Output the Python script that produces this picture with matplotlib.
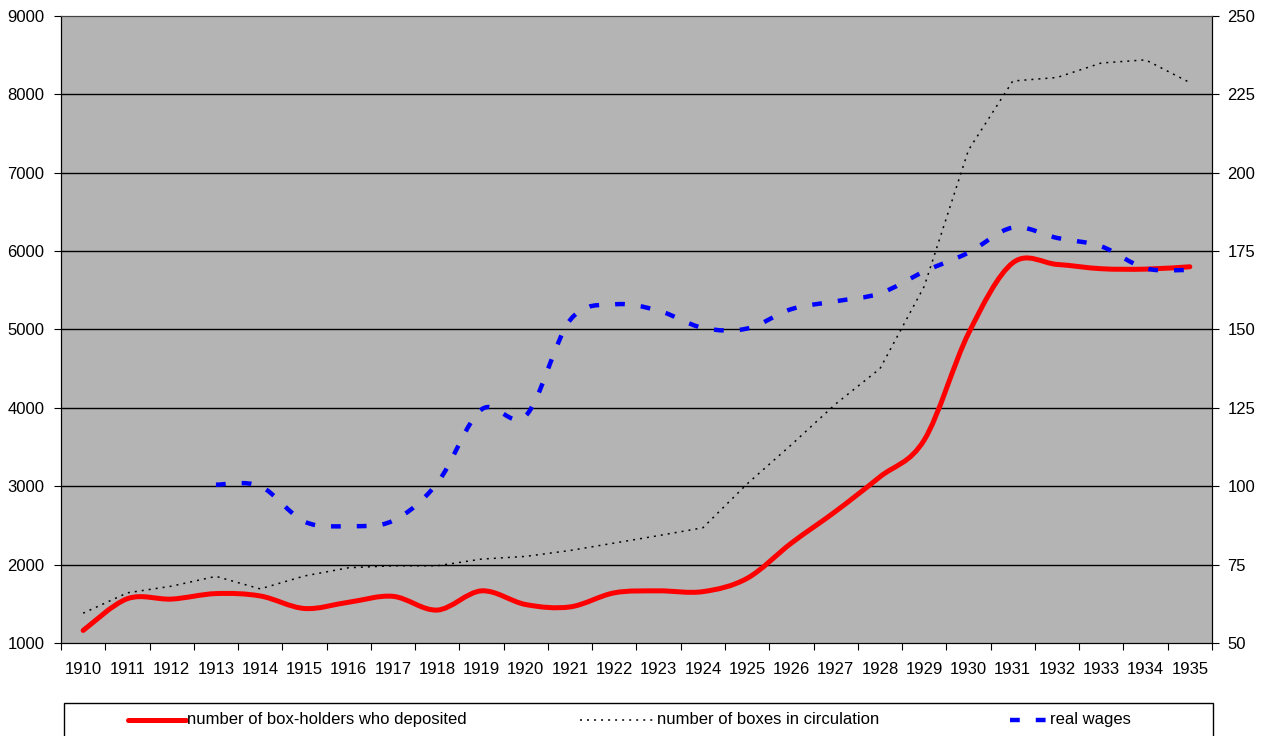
import numpy as np
import matplotlib.pyplot as plt
from matplotlib import font_manager
from matplotlib.path import Path
from matplotlib.patches import PathPatch, Rectangle
from matplotlib.lines import Line2D

installed = {f.name for f in font_manager.fontManager.ttflist}
if "Liberation Sans Narrow" in installed:
    plt.rcParams["font.family"] = ["Liberation Sans Narrow", "DejaVu Sans"]
    fs = 14
else:
    plt.rcParams["font.family"] = ["Liberation Sans", "DejaVu Sans"]
    fs = 12

years = list(range(1910, 1936))
depositors = [1160, 1565, 1560, 1630, 1600, 1440, 1520, 1595, 1420, 1665,
              1490, 1460, 1640, 1665, 1655, 1825, 2275, 2680, 3120, 3590,
              4950, 5850, 5830, 5775, 5770, 5800]
boxes = [1380, 1640, 1725, 1850, 1690, 1855, 1960, 1985, 1985, 2070,
         2105, 2180, 2275, 2370, 2470, 3030, 3530, 4050, 4500, 5550,
         7290, 8170, 8215, 8400, 8440, 8150]
wage_years = list(range(1913, 1936))
wages = [100.5, 100, 88.7, 87.3, 89, 101, 124.5, 122.5, 153, 158,
         156, 150.5, 150.3, 156.5, 159, 161.5, 168.5, 174.5, 182.5, 179.2,
         176.5, 169.5, 169]

legend_labels = ["number of box-holders who deposited",
                 "number of boxes in circulation",
                 "real wages"]


def smooth_path(x, y):
    # bezier through the points, like excel's "smoothed line"
    x = np.asarray(x, float)
    y = np.asarray(y, float)
    n = len(x)
    verts = [(x[0], y[0])]
    codes = [Path.MOVETO]
    for i in range(n - 1):
        i0 = max(i - 1, 0)
        i3 = min(i + 2, n - 1)
        c1 = (x[i] + (x[i + 1] - x[i0]) / 6, y[i] + (y[i + 1] - y[i0]) / 6)
        c2 = (x[i + 1] - (x[i3] - x[i]) / 6, y[i + 1] - (y[i3] - y[i]) / 6)
        verts += [c1, c2, (x[i + 1], y[i + 1])]
        codes += [Path.CURVE4] * 3
    return Path(verts, codes)


fig = plt.figure(figsize=(12.63, 7.36), dpi=100)
ax = fig.add_axes([0.0483, 0.1264, 0.9113, 0.8519])
ax.set_facecolor("#b4b4b4")

ax.set_xlim(1909.5, 1935.5)
ax.set_ylim(1000, 9000)
ax.set_yticks(range(1000, 9001, 1000))
for v in range(2000, 9000, 1000):
    ax.axhline(v, color="black", lw=1, zorder=1)

ax.set_xticks(np.arange(1909.5, 1936, 1))
ax.set_xticklabels([])
ax.set_xticks(years, minor=True)
ax.set_xticklabels([str(y) for y in years], minor=True)
ax.tick_params(axis="x", which="major", length=5, direction="out", color="black")
ax.tick_params(axis="x", which="minor", length=0, pad=14, labelsize=fs)
ax.tick_params(axis="y", length=5, pad=7, labelsize=fs)

ax.plot(years, boxes, color="black", lw=1.1, dashes=(1.3, 3.3), zorder=3)
ax.add_patch(PathPatch(smooth_path(years, depositors), fill=False,
                       edgecolor="#ff0000", lw=3.6, zorder=4,
                       capstyle="round"))

ax2 = ax.twinx()
ax2.set_ylim(50, 250)
ax2.set_yticks(range(50, 251, 25))
ax2.tick_params(axis="y", length=5, pad=6, labelsize=fs)
ax2.add_patch(PathPatch(smooth_path(wage_years, wages), fill=False,
                        edgecolor="#0000ff", lw=3.2, linestyle=(0, (2.2, 3.6)),
                        capstyle="butt", zorder=5))

for a in (ax, ax2):
    a.spines["top"].set_color("#444444")
    a.spines["left"].set_color("black")
    a.spines["right"].set_color("black")
    a.spines["bottom"].set_color("black")

# legend box at the bottom
fig.add_artist(Rectangle((0.0507, -0.05), 0.9097, 0.0948, transform=fig.transFigure,
                         facecolor="white", edgecolor="black", lw=1))
ly = 0.0221
fig.add_artist(Line2D([0.101, 0.147], [ly, ly], transform=fig.transFigure,
                      color="#ff0000", lw=3.6, solid_capstyle="round"))
fig.text(0.148, ly, legend_labels[0], fontsize=fs, va="center", ha="left")
fig.add_artist(Line2D([0.459, 0.519], [ly, ly], transform=fig.transFigure,
                      color="black", lw=1.1, dashes=(1.3, 3.3)))
fig.text(0.520, ly, legend_labels[1], fontsize=fs, va="center", ha="left")
fig.add_artist(Line2D([0.7997, 0.830], [ly, ly], transform=fig.transFigure,
                      color="#0000ff", lw=3.2, linestyle=(0, (2.2, 3.6)),
                      solid_capstyle="butt"))
fig.text(0.831, ly, legend_labels[2], fontsize=fs, va="center", ha="left")

fig.savefig("out.png", dpi=100)
